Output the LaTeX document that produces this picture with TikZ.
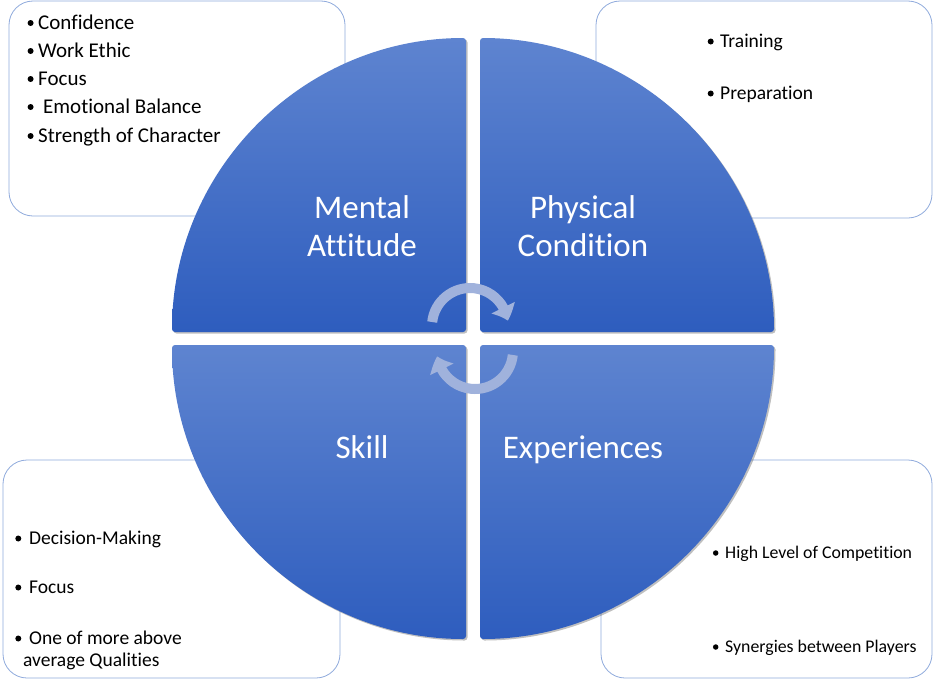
\documentclass[tikz,border=0pt]{standalone}
\usepackage{fontspec}
\setmainfont{Carlito}[Ligatures=NoCommon]
\usetikzlibrary{arrows.meta,bending,shadows}
\definecolor{boxline}{RGB}{143,170,220}
\definecolor{qtop}{RGB}{94,132,208}
\definecolor{qbot}{RGB}{46,93,190}
\definecolor{cyccol}{RGB}{160,178,220}
\tikzset{
  infobox/.style={draw=boxline, line width=0.8pt, fill=white, rounded corners=24pt},
  quad/.style={top color=qtop, bottom color=qbot, rounded corners=3pt,
    drop shadow={shadow xshift=1.5pt, shadow yshift=-1.5pt, opacity=0.25, fill=black}},
  qlabel/.style={anchor=base, inner sep=0pt, text=white, font=\fontsize{33}{38}\selectfont},
  dot/.style={circle, fill=black, inner sep=0pt, minimum size=6pt},
  sdot/.style={circle, fill=black, inner sep=0pt, minimum size=5.5pt},
  bt/.style={anchor=base west, inner sep=0pt},
  cyc/.style={draw=cyccol, line width=10pt, -{Triangle[width=25pt,length=14pt,bend]}}
}
\begin{document}
\begin{tikzpicture}[x=1pt,y=-1pt]
\useasboundingbox (0,0) rectangle (934,680);
% boxes
\path[infobox] (9,1) rectangle (345,216);
\path[infobox] (596,1) rectangle (932,218);
\path[infobox] (3,460) rectangle (340,678);
\path[infobox] (601,460) rectangle (932,678);
% quadrants
\path[quad] (466,332) -- (172,332) arc[start angle=180,end angle=270,radius=294] -- cycle;
\path[quad] (480,332) -- (480,38) arc[start angle=270,end angle=360,radius=294] -- cycle;
\path[quad] (480,345) -- (774,345) arc[start angle=0,end angle=90,radius=294] -- cycle;
\path[quad] (466,345) -- (466,639) arc[start angle=90,end angle=180,radius=294] -- cycle;
% labels
\node[qlabel] (m1) at (362,218) {Mental};
\node[qlabel] (m2) at (362,256) {Attitude};
\node[qlabel] (p1) at (583,218) {Physical};
\node[qlabel] (p2) at (583,256) {Condition};
\node[qlabel] (s1) at (362,458) {Skill};
\node[qlabel] (e1) at (583,458) {Experiences};
% cycle arrows
\coordinate (c1) at (470,326);
\coordinate (c2) at (475,351);
\draw[cyc] ([shift={(186:38)}]c1) arc[start angle=186,end angle=352,radius=38];
\draw[cyc] ([shift={(6:38)}]c2) arc[start angle=6,end angle=172,radius=38];
% top-left list
\begin{scope}[font=\fontsize{21}{28}\selectfont]
\node[dot] (a0) at (30.6,23) {}; \node[bt] (a1) at (38,29) {Confidence};
\node[dot] (b0) at (30.6,51) {}; \node[bt] (b1) at (38,57) {Work Ethic};
\node[dot] (c0) at (30.6,79) {}; \node[bt] (cc1) at (38,85) {Focus};
\node[dot] (d0) at (30.6,107) {}; \node[bt] (d1) at (43,113) {Emotional Balance};
\node[dot] (f0) at (30.6,136) {}; \node[bt] (f1) at (38,142) {Strength of Character};
\end{scope}
% top-right list
\begin{scope}[font=\fontsize{19.5}{24}\selectfont]
\node[dot] (g0) at (710.7,41.5) {}; \node[bt] (g1) at (720,47) {Training};
\node[dot] (h0) at (710.7,93.5) {}; \node[bt] (h1) at (720,99) {Preparation};
\end{scope}
% bottom-left list
\begin{scope}[font=\fontsize{19.5}{24}\selectfont]
\node[dot] (i0) at (18.3,538.5) {}; \node[bt] (i1) at (29,544) {Decision-Making};
\node[dot] (j0) at (18.3,587.5) {}; \node[bt] (j1) at (29,593) {Focus};
\node[dot] (k0) at (18.3,638.5) {}; \node[bt] (k1) at (29,644) {One of more above};
\node[bt] (k2) at (23,666) {average Qualities};
\end{scope}
% bottom-right list
\begin{scope}[font=\fontsize{17.8}{22}\selectfont]
\node[sdot] (l0) at (715.7,553) {}; \node[bt] (l1) at (725,558) {High Level of Competition};
\node[sdot] (n0) at (715.7,647) {}; \node[bt] (n1) at (725,652) {Synergies between Players};
\end{scope}
\end{tikzpicture}
\end{document}
